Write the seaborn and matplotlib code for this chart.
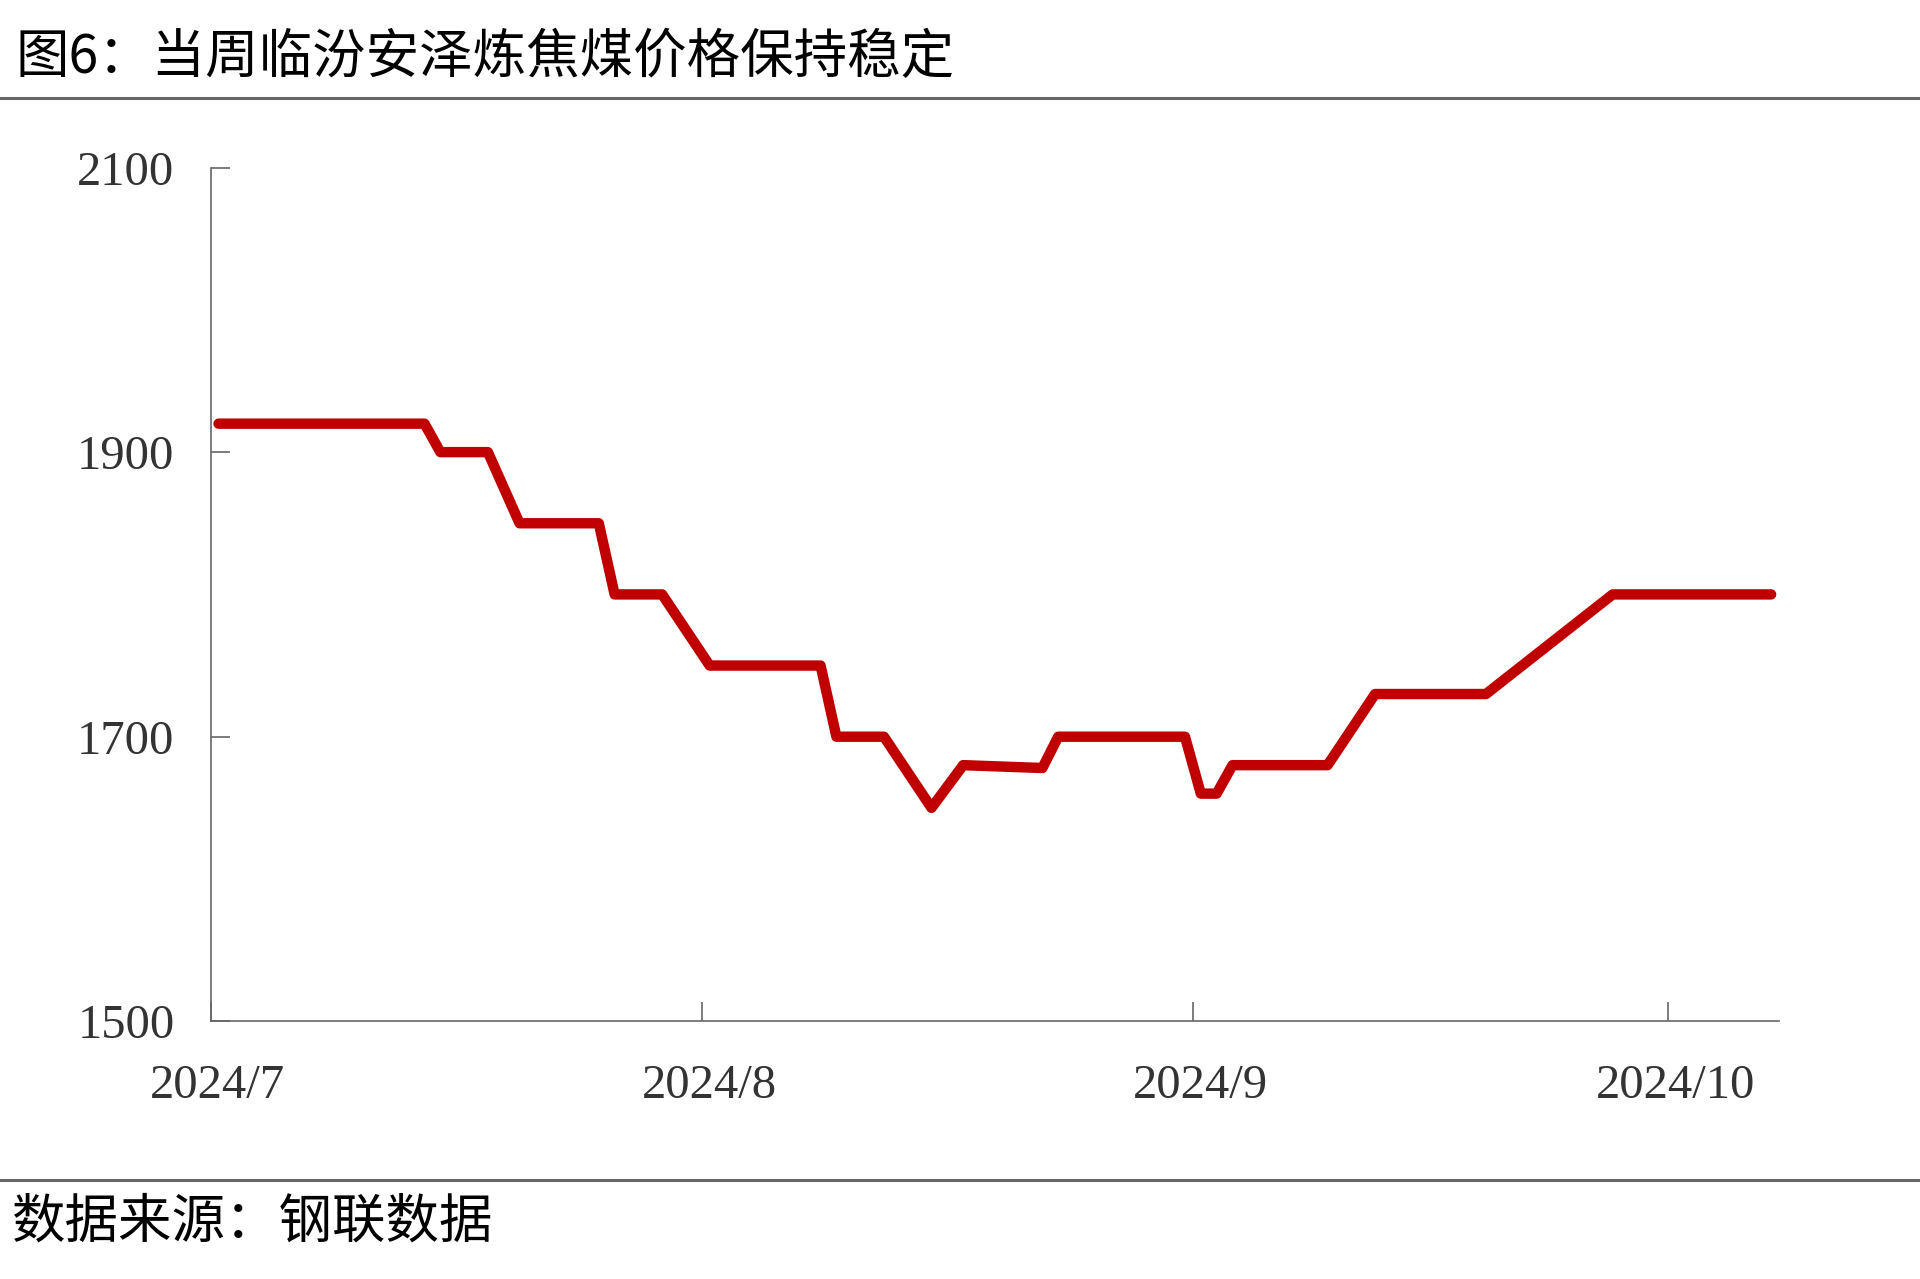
import pandas as pd
import matplotlib.pyplot as plt
import seaborn as sns

# 临汾安泽炼焦煤价格 (元/吨)，读图估计
dates = ["2024-07-01", "2024-07-14", "2024-07-15", "2024-07-18", "2024-07-20",
         "2024-07-25", "2024-07-26", "2024-07-29", "2024-08-01", "2024-08-08",
         "2024-08-09", "2024-08-12", "2024-08-15", "2024-08-17", "2024-08-22",
         "2024-08-23", "2024-08-31", "2024-09-01", "2024-09-02", "2024-09-03",
         "2024-09-09", "2024-09-12", "2024-09-19", "2024-09-27", "2024-10-07"]
prices = [1920, 1920, 1900, 1900, 1850,
          1850, 1800, 1800, 1750, 1750,
          1700, 1700, 1650, 1680, 1678,
          1700, 1700, 1660, 1660, 1680,
          1680, 1730, 1730, 1800, 1800]

month_ticks = ["2024-07-01", "2024-08-01", "2024-09-01", "2024-10-01"]
month_labels = ["2024/7", "2024/8", "2024/9", "2024/10"]
y_ticks = [1500, 1700, 1900, 2100]

title = "图6：当周临汾安泽炼焦煤价格保持稳定"
source = "数据来源：钢联数据"

sns.set_theme(style="ticks")
plt.rcParams['font.family'] = ['Noto Sans CJK SC', 'DejaVu Sans']

df = pd.DataFrame({"date": pd.to_datetime(dates) + pd.Timedelta(hours=12),
                   "price": prices})

fig = plt.figure(figsize=(19.2, 12.79), dpi=100)
ax = fig.add_axes([0.1097, 0.2015, 0.9266 - 0.1097, 0.8690 - 0.2015])

sns.lineplot(data=df, x="date", y="price", ax=ax, color="#C00000",
             linewidth=7.5, solid_capstyle="round", solid_joinstyle="round")

ax.set_xlim(pd.Timestamp("2024-07-01"), pd.Timestamp("2024-10-08"))
ax.set_ylim(1500, 2100)
ax.set_xlabel("")
ax.set_ylabel("")

spine_color = "#666666"
for side in ["top", "right"]:
    ax.spines[side].set_visible(False)
for side in ["left", "bottom"]:
    ax.spines[side].set_color(spine_color)
    ax.spines[side].set_linewidth(1.2)

serif = ["Liberation Serif", "DejaVu Serif"]

# y 轴
ax.set_yticks(y_ticks)
ax.set_yticklabels([str(v) for v in y_ticks], family=serif, fontsize=35, color="#333333")
ax.tick_params(axis="y", direction="in", length=14, width=1.2, color=spine_color, pad=26)

# x 轴：刻度在月初，标签略偏右
tick_pos = pd.to_datetime(month_ticks)
ax.set_xticks(tick_pos)
ax.set_xticklabels([])
ax.tick_params(axis="x", which="major", direction="in", length=14, width=1.2, color=spine_color)
ax.set_xticks(tick_pos + pd.Timedelta(hours=11), minor=True)
ax.set_xticklabels(month_labels, minor=True, family=serif, fontsize=35, color="#333333")
ax.tick_params(axis="x", which="minor", length=0, pad=31)

# 标题、来源和分隔线
fig.text(0.008, 1 - 57 / 1279, title, fontsize=38.5, color="black", ha="left", va="center")
fig.text(0.006, 1 - 1222 / 1279, source, fontsize=38.5, color="black", ha="left", va="center")
fig.add_artist(plt.Line2D([0, 1], [1 - 98 / 1279] * 2, color="#666666", linewidth=2.2))
fig.add_artist(plt.Line2D([0, 1], [1 - 1180 / 1279] * 2, color="#666666", linewidth=2.2))

fig.savefig("out.png", dpi=100, facecolor="white")
